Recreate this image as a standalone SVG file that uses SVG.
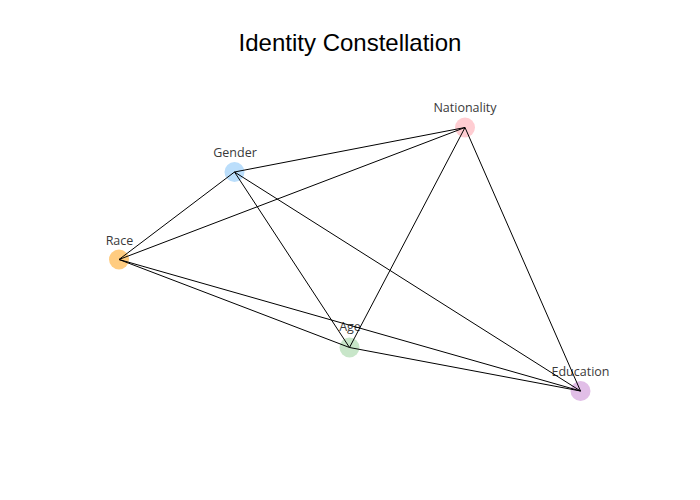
<svg xmlns="http://www.w3.org/2000/svg" width="700" height="500" viewBox="0 0 700 500">
<style>
.title{font-family:"Liberation Sans",Arial,sans-serif;font-size:24px;fill:#000;text-anchor:middle}
.lbl{font-family:"Open Sans","Liberation Sans",sans-serif;font-size:12.5px;fill:#3a3a3a;text-anchor:middle}
.edge{stroke:#000;stroke-width:1;fill:none}
</style>
<rect width="700" height="500" fill="#fff"/>
<text class="title" x="350" y="51">Identity Constellation</text>
<g id="node-nationality"><circle cx="465" cy="127.5" r="10" fill="#ffcdd2"/><text class="lbl" x="465" y="111.5">Nationality</text></g>
<g id="node-gender"><circle cx="234.5" cy="172" r="10" fill="#bbdefb"/><text class="lbl" x="235" y="156.5">Gender</text></g>
<g id="node-race"><circle cx="119" cy="259.5" r="10" fill="#ffcc80"/><text class="lbl" x="119.5" y="244.5">Race</text></g>
<g id="node-age"><circle cx="349.5" cy="347.5" r="10" fill="#c8e6c9"/><text class="lbl" x="350" y="331">Age</text></g>
<g id="node-education"><circle cx="580.5" cy="391" r="10" fill="#e1bee7"/><text class="lbl" x="580.5" y="375.5">Education</text></g>
<g id="connectors">
<line class="edge" x1="234.5" y1="172" x2="465" y2="127.5"/>
<line class="edge" x1="119" y1="259.5" x2="465" y2="127.5"/>
<line class="edge" x1="119" y1="259.5" x2="234.5" y2="172"/>
<line class="edge" x1="234.5" y1="172" x2="349.5" y2="347.5"/>
<line class="edge" x1="234.5" y1="172" x2="580.5" y2="391"/>
<line class="edge" x1="119" y1="259.5" x2="349.5" y2="347.5"/>
<line class="edge" x1="119" y1="259.5" x2="580.5" y2="391"/>
<line class="edge" x1="349.5" y1="347.5" x2="465" y2="127.5"/>
<line class="edge" x1="465" y1="127.5" x2="580.5" y2="391"/>
<line class="edge" x1="349.5" y1="347.5" x2="580.5" y2="391"/>
</g>
</svg>
